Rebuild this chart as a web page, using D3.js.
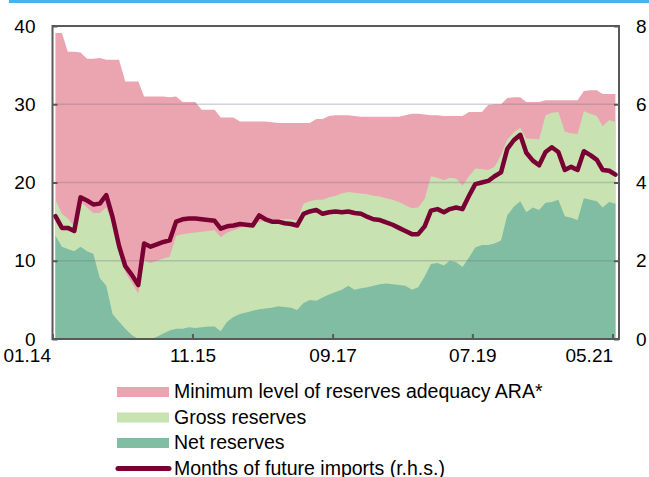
<!DOCTYPE html>
<html>
<head>
<meta charset="utf-8">
<script src="https://cdn.jsdelivr.net/npm/d3@7"></script>
<style>
  body { margin: 0; background: #fff; }
  svg { display: block; font-family: Arial, "Liberation Sans", sans-serif; }
</style>
</head>
<body>
<div id="chart"></div>
<script>
// monthly observations, Jan 2014 .. May 2021
const araLevel = [39.1,39.1,36.7,36.7,36.6,35.8,35.8,35.9,35.7,35.7,35.7,32.9,32.9,32.9,31.0,31.0,31.0,31.0,30.9,31.0,
  30.3,30.3,30.3,29.3,29.3,29.3,28.3,28.3,28.3,27.8,
  27.8,27.8,27.8,27.8,27.7,27.6,27.6,27.6,27.6,27.6,
  27.6,28.1,28.1,28.5,28.6,28.6,28.6,28.5,28.4,28.4,
  28.4,28.4,28.4,28.4,28.4,28.6,28.8,28.8,28.7,28.6,
  28.6,28.5,28.5,28.5,28.5,29.0,29.0,29.0,29.9,30.0,
  30.0,30.8,30.9,30.9,30.3,30.3,30.3,30.5,30.5,30.5,
  30.5,30.5,30.5,31.7,31.8,31.8,31.3,31.3,31.3];

const grossReserves = [17.8,16.0,15.4,14.4,17.5,16.8,16.1,16.1,16.8,14.8,
  11.0,8.5,7.2,5.8,10.0,9.7,10.0,10.3,10.5,13.2,
  13.4,13.5,13.6,13.7,13.8,13.9,13.0,13.6,13.9,14.2,
  14.5,14.7,15.0,15.1,15.2,15.3,15.3,15.3,15.1,17.3,
  17.6,17.8,17.8,18.1,18.3,18.6,18.8,18.7,18.6,18.5,
  18.3,18.2,18.0,17.8,17.5,17.1,16.7,16.8,17.9,20.8,
  20.6,20.3,20.6,20.5,19.6,20.8,21.8,21.7,21.6,22.0,
  23.5,25.5,26.4,27.0,25.6,25.6,25.5,28.6,28.9,29.0,
  26.5,26.3,26.2,29.1,28.8,28.5,27.2,28.0,27.7];

const netReserves = [13.2,11.8,11.5,11.2,11.8,11.2,10.9,7.8,6.8,3.2,
  2.2,1.3,0.5,0.0,0.0,0.0,0.3,0.7,1.1,1.3,
  1.3,1.5,1.4,1.5,1.6,1.6,1.0,2.2,2.8,3.2,
  3.4,3.6,3.8,3.9,4.0,4.2,4.1,4.0,3.7,4.6,
  5.0,4.9,5.3,5.7,6.0,6.3,6.8,6.3,6.5,6.6,
  6.8,7.0,7.1,7.0,6.9,6.8,6.3,6.6,8.0,9.6,
  9.7,9.4,10.0,9.8,9.2,10.4,11.7,12.0,12.0,12.2,
  12.6,15.8,16.9,17.6,16.2,16.8,16.5,17.4,17.5,17.8,
  15.7,15.5,15.2,18.0,17.8,17.6,16.8,17.5,17.3];

const importMonths = [3.14,2.84,2.84,2.76,3.62,3.54,3.44,3.46,3.68,3.12,
  2.38,1.86,1.64,1.38,2.44,2.36,2.42,2.48,2.52,3.00,
  3.06,3.08,3.08,3.06,3.04,3.02,2.82,2.88,2.90,2.94,
  2.92,2.90,3.16,3.06,3.00,3.00,2.96,2.94,2.90,3.20,
  3.26,3.30,3.20,3.24,3.26,3.24,3.26,3.22,3.20,3.12,
  3.06,3.04,2.98,2.92,2.84,2.76,2.68,2.68,2.88,3.28,
  3.32,3.24,3.32,3.36,3.32,3.66,3.96,4.00,4.04,4.16,
  4.26,4.86,5.08,5.22,4.76,4.56,4.44,4.78,4.90,4.78,
  4.32,4.40,4.32,4.80,4.70,4.58,4.32,4.30,4.20];

const xTickLabels = ["01.14", "11.15", "09.17", "07.19", "05.21"];
const leftTicks = [0, 10, 20, 30, 40];
const rightTicks = [0, 2, 4, 6, 8];
const legendLabels = ["Minimum level of reserves adequacy ARA*", "Gross reserves", "Net reserves", "Months of future imports (r.h.s.)"];

const colors = { ara: "#eaa5b0", gross: "#c8e2b2", net: "#80bda2", line: "#7a0034" };

const parseLabel = d3.timeParse("%m.%y");
const dates = araLevel.map((d, i) => new Date(2014, i, 15));
const data = dates.map((d, i) => ({ date: d, ara: araLevel[i], gross: grossReserves[i], net: netReserves[i], months: importMonths[i] }));

const W = 649, H = 477;
const plot = { left: 52.5, right: 619, top: 26, bottom: 339 };

const svg = d3.select("#chart").append("svg").attr("width", W).attr("height", H);

// top blue rule
svg.append("rect").attr("x", 9).attr("y", 0).attr("width", W - 9).attr("height", 3).attr("fill", "#4bb2e6");

const x = d3.scaleTime().domain([new Date(2014, 0, 1), new Date(2021, 5, 1)]).range([plot.left, plot.right]);
const y = d3.scaleLinear().domain([0, 40]).range([plot.bottom, plot.top]);
const y2 = d3.scaleLinear().domain([0, 8]).range([plot.bottom, plot.top]);

const area = key => d3.area().x(d => x(d.date)).y0(y(0)).y1(d => y(d[key]));

svg.append("path").datum(data).attr("fill", colors.ara).attr("d", area("ara"));
svg.append("path").datum(data).attr("fill", colors.gross).attr("d", area("gross"));
svg.append("path").datum(data).attr("fill", colors.net).attr("d", area("net"));

// gridlines over the areas
svg.append("g").selectAll("line").data([10, 20, 30]).enter().append("line")
  .attr("x1", plot.left).attr("x2", plot.right)
  .attr("y1", d => y(d)).attr("y2", d => y(d))
  .attr("stroke", "rgba(110,110,135,0.3)").attr("stroke-width", 1.5);

svg.append("path").datum(data)
  .attr("fill", "none").attr("stroke", colors.line).attr("stroke-width", 4.5)
  .attr("stroke-linejoin", "round").attr("stroke-linecap", "round")
  .attr("d", d3.line().x(d => x(d.date)).y(d => y2(d.months)));

// frame
svg.append("rect").attr("x", plot.left).attr("y", plot.top)
  .attr("width", plot.right - plot.left).attr("height", plot.bottom - plot.top)
  .attr("fill", "none").attr("stroke", "#595959").attr("stroke-width", 2);

const styleAxis = g => {
  g.select(".domain").remove();
  g.selectAll(".tick line").attr("stroke", "#595959").attr("stroke-width", 2);
  g.selectAll(".tick text").attr("fill", "#000").style("font-size", "19px").style("font-family", "Arial, 'Liberation Sans', sans-serif");
};

svg.append("g").attr("transform", `translate(${plot.left},0)`)
  .call(d3.axisLeft(y).tickValues(leftTicks).tickSizeInner(-5).tickSizeOuter(0).tickPadding(17))
  .call(styleAxis);

svg.append("g").attr("transform", `translate(${plot.right},0)`)
  .call(d3.axisRight(y2).tickValues(rightTicks).tickSizeInner(-5).tickSizeOuter(0).tickPadding(17))
  .call(styleAxis);

const tickDates = xTickLabels.map(parseLabel);
const xAxis = svg.append("g").attr("transform", `translate(0,${plot.bottom})`)
  .call(d3.axisBottom(x).tickValues(tickDates).tickFormat(d3.timeFormat("%m.%y")).tickSizeInner(-5).tickSizeOuter(0).tickPadding(10))
  .call(styleAxis);
xAxis.selectAll(".tick text")
  .attr("text-anchor", (d, i) => i === 0 || i === xTickLabels.length - 1 ? "end" : "middle")
  .attr("dx", (d, i) => i === 0 ? -2 : 0);

// legend
const legend = svg.append("g").attr("transform", "translate(116,398)");
const swatchColors = [colors.ara, colors.gross, colors.net];
legendLabels.forEach((label, i) => {
  const row = legend.append("g").attr("transform", `translate(0,${i * 25.5})`);
  if (i < 3) {
    row.append("rect").attr("x", 1).attr("y", -11).attr("width", 52).attr("height", 10).attr("fill", swatchColors[i]);
  } else {
    row.append("line").attr("x1", 2).attr("x2", 53).attr("y1", -6).attr("y2", -6)
      .attr("stroke", colors.line).attr("stroke-width", 5).attr("stroke-linecap", "round");
  }
  row.append("text").attr("x", 58).attr("y", 0).style("font-size", "19.5px").attr("fill", "#000").text(label);
});
</script>
</body>
</html>
